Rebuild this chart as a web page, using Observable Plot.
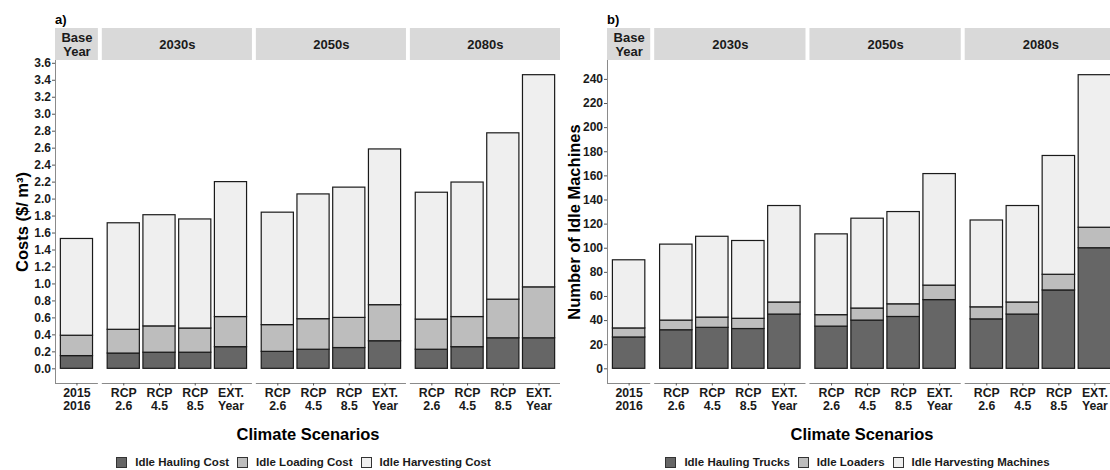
<!DOCTYPE html>
<html><head><meta charset="utf-8">
<script src="https://cdn.jsdelivr.net/npm/d3@7"></script>
<script src="https://cdn.jsdelivr.net/npm/@observablehq/plot@0.6"></script>
<style>
html,body{margin:0;padding:0;background:#fff;}
body{width:1110px;height:470px;overflow:hidden;position:relative;font-family:"Liberation Sans",Arial,sans-serif;}
.abs{position:absolute;}
.tag{font-weight:bold;font-size:13px;color:#000;line-height:14px;}
.legend{display:flex;justify-content:center;align-items:center;font-weight:bold;font-size:11.5px;color:#1a1a1a;white-space:nowrap;height:18px;}
.legend .sw{width:9px;height:9px;border:1px solid #333;margin-right:8px;box-sizing:content-box;}
.legend .it{display:flex;align-items:center;margin-right:8px;}
svg{display:block;}
</style></head><body>
<script>
// ---- data ----
const periods = ["Base\nYear", "2030s", "2050s", "2080s"];
const baseLabels = ["2015\n2016"];
const scenarioLabels = ["RCP\n2.6", "RCP\n4.5", "RCP\n8.5", "EXT.\nYear"];
const costComponents = ["Idle Hauling Cost", "Idle Loading Cost", "Idle Harvesting Cost"];
const machineComponents = ["Idle Hauling Trucks", "Idle Loaders", "Idle Harvesting Machines"];
const greys = ["#666666", "#bdbdbd", "#efefef"];

// order: Base, 2030s (RCP2.6, RCP4.5, RCP8.5, EXT), 2050s (...), 2080s (...)
const haulingCost    = [0.15, 0.18, 0.19, 0.19, 0.255, 0.20, 0.225, 0.245, 0.325, 0.225, 0.255, 0.36, 0.36];
const loadingCost    = [0.24, 0.28, 0.31, 0.285, 0.355, 0.315, 0.36, 0.355, 0.425, 0.355, 0.355, 0.455, 0.60];
const harvestingCost = [1.14, 1.255, 1.31, 1.285, 1.59, 1.325, 1.47, 1.535, 1.835, 1.495, 1.585, 1.96, 2.50];

const haulingTrucks  = [26, 32, 34, 33, 45, 35, 40, 43, 57, 41, 45, 65, 100];
const loaders        = [7.5, 8, 8.5, 8.5, 10, 9.5, 10, 10.5, 12, 10, 10, 13, 17];
const harvestMachines= [56.5, 63, 67, 64.5, 80, 67, 74.5, 76.5, 92.5, 72, 80, 98.5, 126.5];

const costTicks = d3.range(0, 3.61, 0.2);
const machineTicks = d3.range(0, 241, 20);

// ---- layout in x units (ggplot free-space facets: n bars + 0.6 expansion each side) ----
const gap = 0.11;
const facetBars = [baseLabels, scenarioLabels, scenarioLabels, scenarioLabels];
const facets = [];
const bars = [];
let cursor = 0;
facetBars.forEach((labs, k) => {
  const w = labs.length + 0.2;
  facets.push({name: periods[k], start: cursor, end: cursor + w, mid: cursor + w / 2});
  labs.forEach((lab, i) => bars.push({pos: cursor + 0.6 + i, label: lab}));
  cursor += w + gap;
});
const total = cursor - gap;
const labelOf = new Map(bars.map(b => [b.pos, b.label]));

const FONT = '"Liberation Sans", Arial, sans-serif';

function makeRows(comps, series) {
  const rows = [];
  bars.forEach((b, j) => {
    comps.forEach((c, s) => rows.push({l: b.pos - 0.45, r: b.pos + 0.45, comp: c, value: series[s][j]}));
  });
  return rows;
}

function panel({left, width, plotW, tag, comps, series, ticks, fmt, ylabel}) {
  const mL = 55, mR = width - 55 - plotW;
  const totals = bars.map((b, j) => d3.sum(series, s => s[j]));
  const maxV = d3.max(totals);
  const lo = -0.05 * maxV, hi = maxV * 1.05;

  const strip = Plot.plot({
    width, height: 32, marginLeft: mL, marginRight: mR, marginTop: 0, marginBottom: 0,
    x: {domain: [0, total], axis: null},
    style: {fontFamily: FONT, background: "transparent"},
    marks: [
      Plot.rect(facets, {x1: "start", x2: "end", fill: "#d9d9d9"}),
      Plot.text(facets, {x: "mid", text: "name", frameAnchor: "middle", fontSize: 13, fontWeight: "bold", fill: "#1a1a1a", lineHeight: 1.08})
    ]
  });

  const main = Plot.plot({
    width, height: 450, marginLeft: mL, marginRight: mR, marginTop: 60, marginBottom: 67,
    x: {domain: [0, total]},
    y: {domain: [lo, hi]},
    color: {domain: comps, range: greys},
    style: {fontFamily: FONT, background: "transparent", color: "#1a1a1a"},
    marks: [
      Plot.rectY(makeRows(comps, series), Plot.stackY({x1: "l", x2: "r", y: "value", fill: "comp", stroke: "#1a1a1a", strokeWidth: 1.2})),
      Plot.ruleX([0], {stroke: "#8a8a8a", strokeWidth: 1}),
      Plot.ruleY(facets, {y: () => lo, x1: "start", x2: "end", stroke: "#8a8a8a", strokeWidth: 1}),
      Plot.axisY({ticks, tickFormat: fmt, tickSize: 3, tickPadding: 1.5, fontSize: 12, fontWeight: "bold", fill: "#1a1a1a", stroke: "#555", label: null}),
      Plot.axisX(bars.map(b => b.pos), {tickFormat: p => labelOf.get(p), tickSize: 2.5, tickPadding: 1, fontSize: 12.3, fontWeight: "bold", fill: "#1a1a1a", stroke: "#555", lineHeight: 1.1, label: null}),
      Plot.text([ylabel], {frameAnchor: "left", textAnchor: "middle", dx: -33, rotate: -90, fontSize: 16.5, fontWeight: "bold", fill: "#000"}),
      Plot.text(["Climate Scenarios"], {frameAnchor: "bottom", dy: 56, fontSize: 16.5, fontWeight: "bold", fill: "#000"})
    ]
  });

  const wrap = document.createElement("div");
  wrap.className = "abs";
  wrap.style.left = left + "px"; wrap.style.top = "0px"; wrap.style.width = width + "px"; wrap.style.height = "470px";
  main.style.position = "absolute"; main.style.left = "0px"; main.style.top = "0px";
  strip.style.position = "absolute"; strip.style.left = "0px"; strip.style.top = "28px";
  wrap.appendChild(main);
  wrap.appendChild(strip);

  const t = document.createElement("div");
  t.className = "abs tag"; t.textContent = tag;
  t.style.left = mL + "px"; t.style.top = "13px";
  wrap.appendChild(t);

  const lg = document.createElement("div");
  lg.className = "abs legend";
  lg.style.left = mL + "px"; lg.style.width = plotW + "px"; lg.style.top = "453px";
  comps.forEach((c, i) => {
    const it = document.createElement("div"); it.className = "it";
    const sw = document.createElement("div"); sw.className = "sw"; sw.style.background = greys[i];
    const tx = document.createElement("span"); tx.textContent = c;
    it.appendChild(sw); it.appendChild(tx); lg.appendChild(it);
  });
  wrap.appendChild(lg);
  document.body.appendChild(wrap);
}

panel({left: 0, width: 565, plotW: 505, tag: "a)", comps: costComponents,
  series: [haulingCost, loadingCost, harvestingCost], ticks: costTicks, fmt: d3.format(".1f"),
  ylabel: "Costs ($/ m³)"});
panel({left: 552, width: 570, plotW: 509, tag: "b)", comps: machineComponents,
  series: [haulingTrucks, loaders, harvestMachines], ticks: machineTicks, fmt: d3.format("d"),
  ylabel: "Number of Idle Machines"});
</script>
</body></html>
